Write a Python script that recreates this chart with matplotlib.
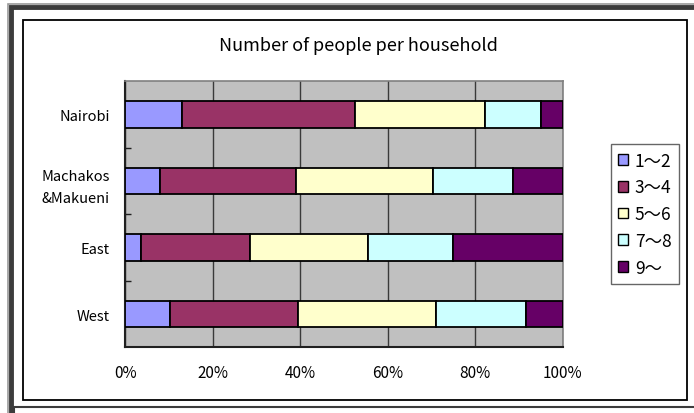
import matplotlib
matplotlib.use("Agg")
import matplotlib.pyplot as plt
from matplotlib.patches import Rectangle
import numpy as np

plt.rcParams['font.family'] = ['Noto Sans CJK JP', 'DejaVu Sans']

# household size shares (%) per region
regions = ['Nairobi', 'Machakos\n&Makueni', 'East', 'West']
groups = ['1～2', '3～4', '5～6', '7～8', '9～']
p_1_2 = [12.9, 8.0, 3.7, 10.2]
p_3_4 = [39.7, 31.0, 24.7, 29.2]
p_5_6 = [29.7, 31.3, 27.0, 31.6]
p_7_8 = [12.7, 18.3, 19.5, 20.5]
p_9_up = [5.0, 11.4, 25.1, 8.5]
x_ticks = [0, 20, 40, 60, 80, 100]

colors = ['#9999FF', '#993366', '#FFFFCC', '#CCFFFF', '#660066']
series = [p_1_2, p_3_4, p_5_6, p_7_8, p_9_up]

W, H = 694, 414
fig = plt.figure(figsize=(W / 100, H / 100), dpi=100)
fig.patch.set_facecolor('white')


def px_rect(x0, y0, x1, y1, **kw):
    # rectangle given in pixel coords, origin top-left
    fig.patches.append(Rectangle((x0 / W, 1 - y1 / H), (x1 - x0) / W, (y1 - y0) / H,
                                 transform=fig.transFigure, figure=fig, **kw))


# window frame around the chart
px_rect(8, 5, 700, 420, fill=False, edgecolor='#9a9a9a', lw=1.2)
px_rect(10.5, 8, 700, 420, fill=False, edgecolor='#3c3c3c', lw=3.5)
px_rect(14, 408, 700, 420, fill=False, edgecolor='#3c3c3c', lw=1.5)
# chart area border
px_rect(22.5, 20.5, 687, 401, fill=False, edgecolor='black', lw=1.3)

ax = fig.add_axes([125.3 / W, 1 - 348.3 / H, 437.4 / W, 266 / H])
ax.set_facecolor('#C0C0C0')

y = np.arange(len(regions))
left = np.zeros(len(regions))
for vals, col, lab in zip(series, colors, groups):
    ax.barh(y, vals, left=left, height=0.4, color=col, edgecolor='black',
            linewidth=1.3, label=lab, zorder=3)
    left += np.array(vals)

ax.set_xlim(0, 100)
ax.set_ylim(3.5, -0.5)
ax.set_xticks(x_ticks)
ax.set_xticklabels([f'{v}%' for v in x_ticks], fontsize=11)
ax.tick_params(axis='x', length=0, pad=12)
ax.xaxis.grid(True, color='#3a3a3a', linewidth=1.0, zorder=1)
ax.set_axisbelow(True)

ax.set_yticks(y)
ax.set_yticklabels(regions, fontsize=10.5, ha='right', linespacing=1.75)
ax.tick_params(axis='y', length=0, pad=11)
ax.set_yticks([0.5, 1.5, 2.5], minor=True)
ax.tick_params(axis='y', which='minor', direction='in', length=4, width=1, color='#202020')

for s in ['top', 'right']:
    ax.spines[s].set_color('#808080')
    ax.spines[s].set_linewidth(1.2)
for s in ['left', 'bottom']:
    ax.spines[s].set_color('#202020')
    ax.spines[s].set_linewidth(1.5)

fig.text(358 / W, 1 - 46 / H, 'Number of people per household', ha='center',
         va='center', fontsize=13)

leg = fig.legend(loc='upper left', bbox_to_anchor=(610.5 / W, 1 - 145 / H),
                 frameon=True, fancybox=False, fontsize=12.5, handlelength=0.55,
                 handleheight=0.55, handletextpad=0.4, labelspacing=0.5,
                 borderpad=0.45, borderaxespad=0)
leg.get_frame().set_edgecolor('#404040')
leg.get_frame().set_linewidth(1.0)
for h in leg.legend_handles:
    h.set_linewidth(1.0)

fig.savefig('out.png', dpi=100)
